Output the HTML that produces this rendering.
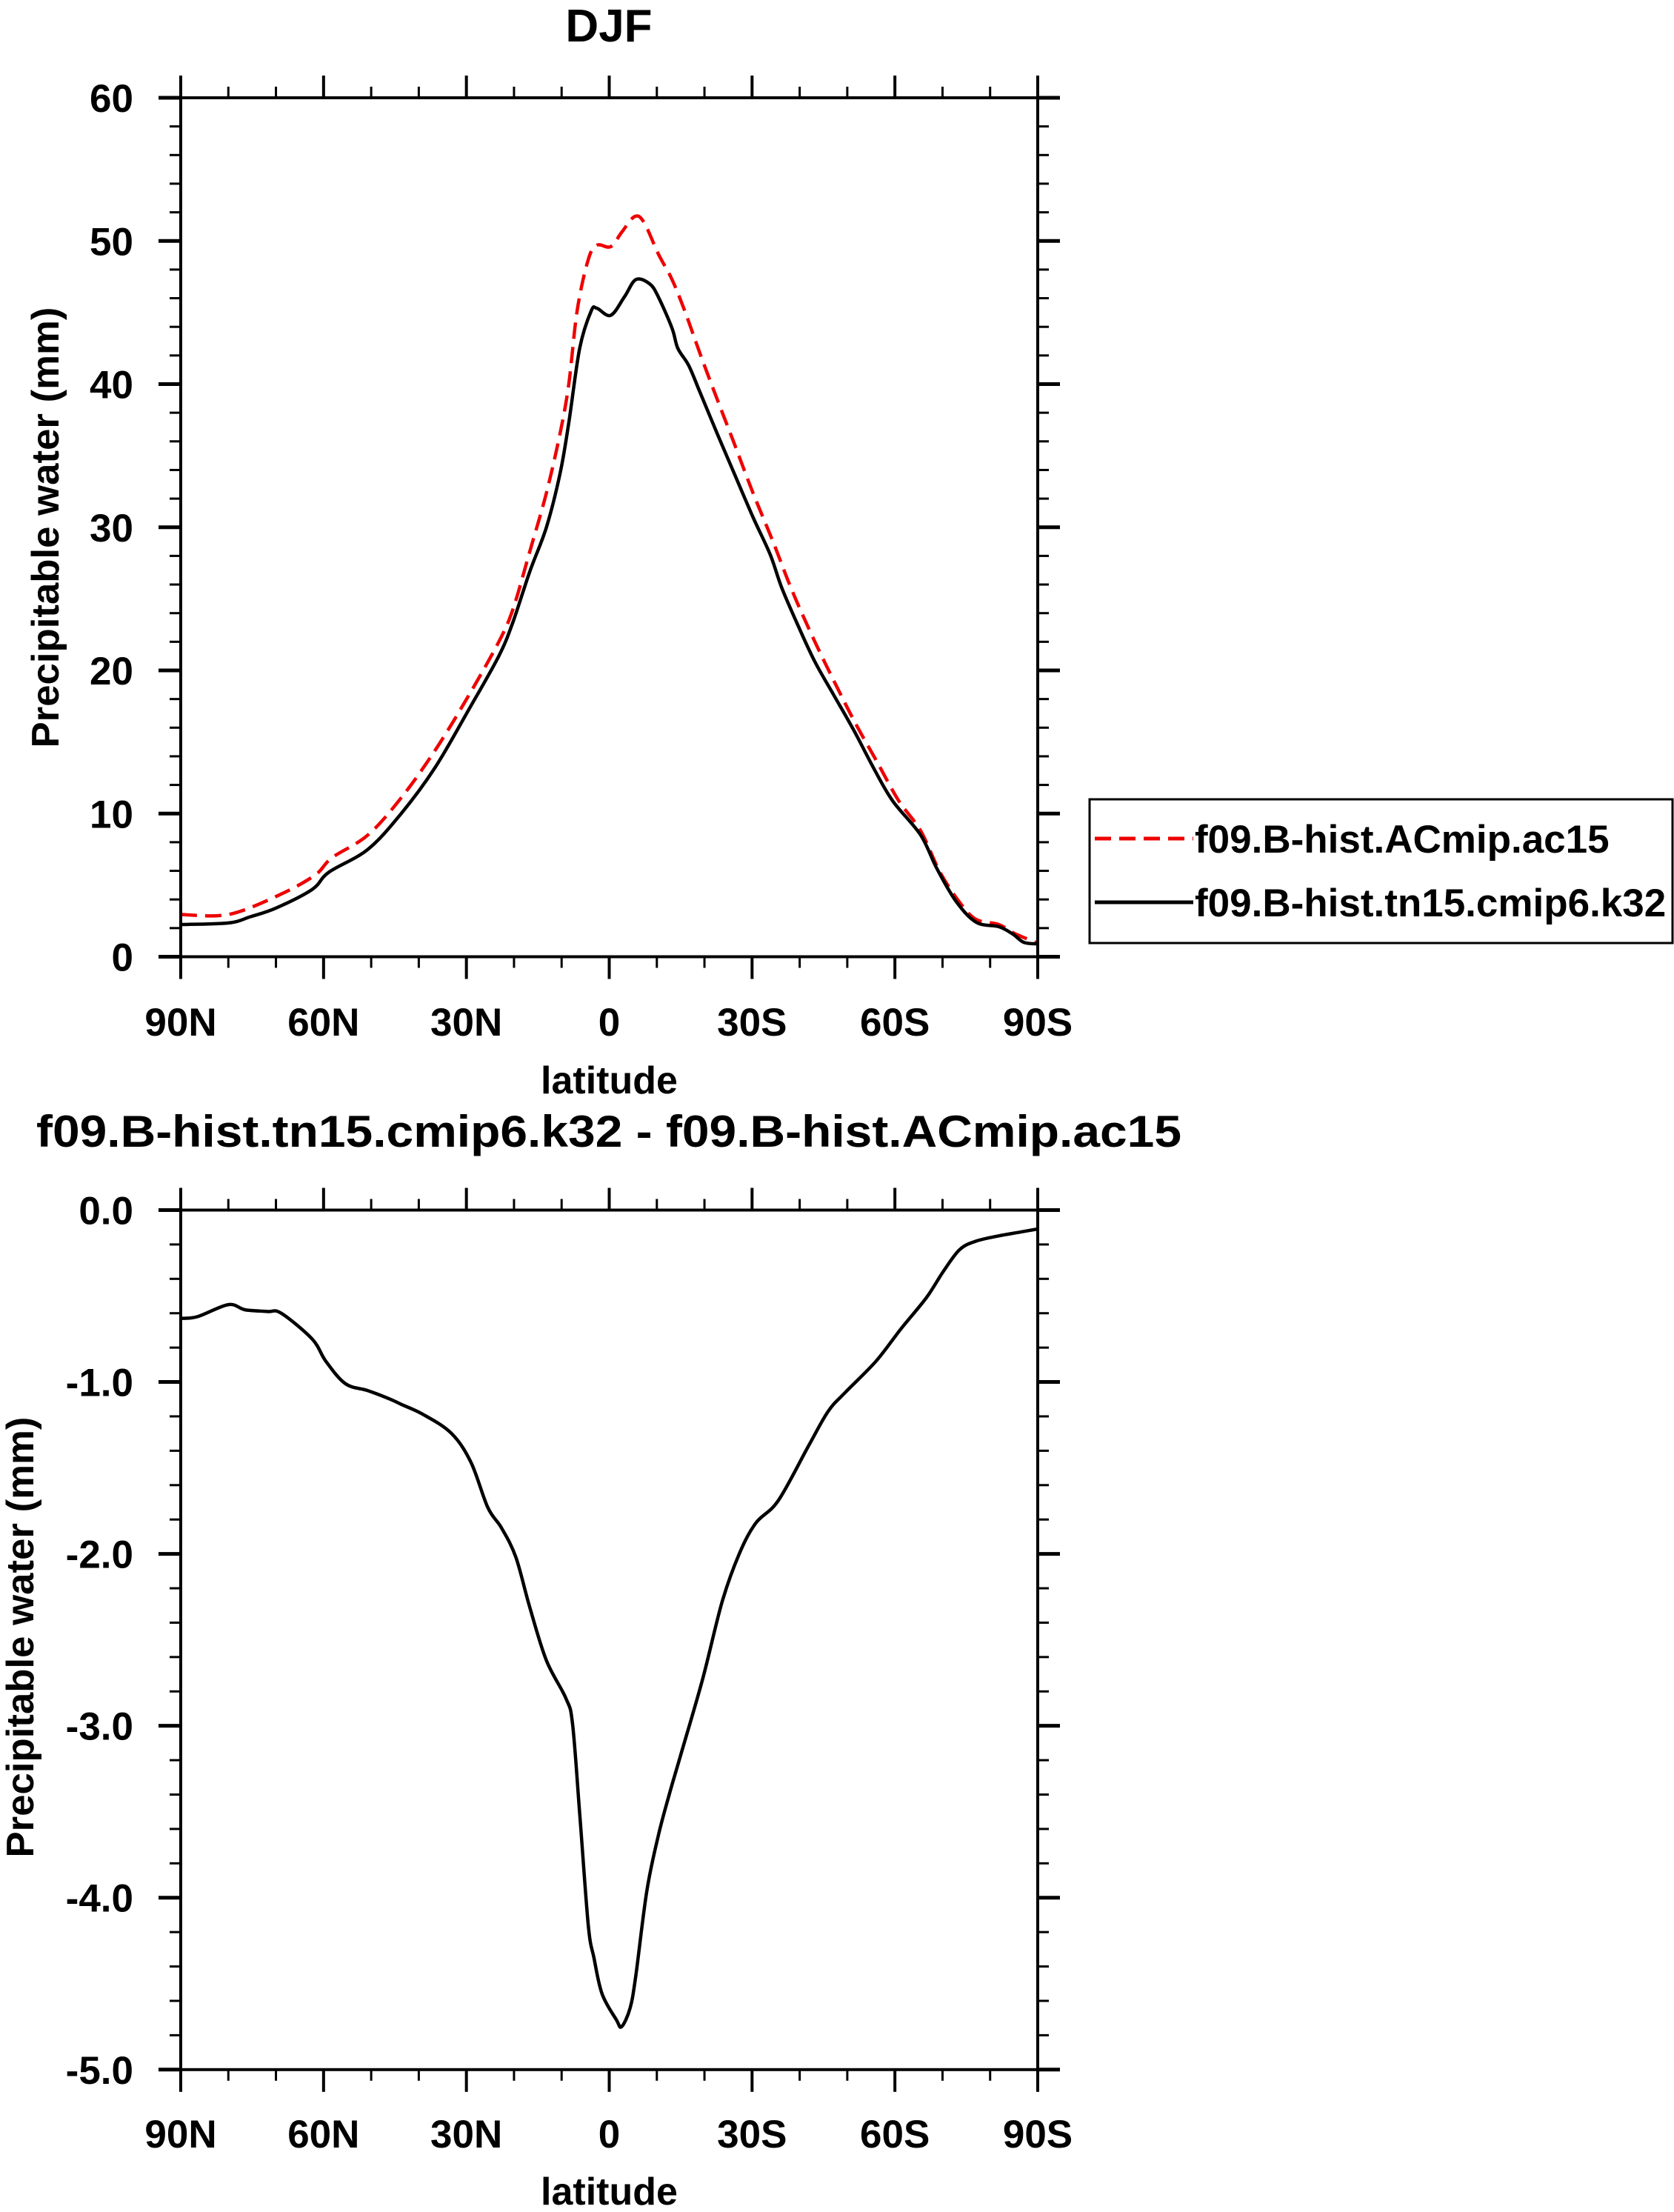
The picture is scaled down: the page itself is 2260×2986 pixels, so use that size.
<!DOCTYPE html>
<html><head><meta charset="utf-8"><style>
html,body{margin:0;padding:0;background:#fff}
svg{display:block}
text{font-family:"Liberation Sans",Arial,sans-serif;font-weight:bold;fill:#000}
</style></head><body>
<svg id="fig" width="2260" height="2986" viewBox="0 0 2260 2986" xmlns="http://www.w3.org/2000/svg">
<rect width="2260" height="2986" fill="#fff"/>
<text x="822" y="56" font-size="62" text-anchor="middle">DJF</text>
<text x="822" y="1548" font-size="60" text-anchor="middle" textLength="1546" lengthAdjust="spacingAndGlyphs">f09.B-hist.tn15.cmip6.k32 - f09.B-hist.ACmip.ac15</text>
<g id="top"></g>
<g id="bot"></g>
<g>
<rect x="1471" y="1079" width="787" height="194" fill="none" stroke="#000" stroke-width="3"/>
<line x1="1478" y1="1132" x2="1611" y2="1132" stroke="#e00" stroke-width="5" stroke-dasharray="22,11"/>
<text x="1613" y="1151" font-size="53">f09.B-hist.ACmip.ac15</text>
<line x1="1478" y1="1218" x2="1611" y2="1218" stroke="#000" stroke-width="5"/>
<text x="1613" y="1237" font-size="53">f09.B-hist.tn15.cmip6.k32</text>
</g>
</svg>
<script>
const latK32=[90,80,75.3,70,62.4,58.9,50.7,43.7,36.6,29.6,23.2,20.2,16.7,13.2,10.3,8.5,6.2,3.8,2.6,-0.3,-3.2,-5.6,-8.5,-10.3,-13.2,-14.4,-16.7,-19.1,-22.6,-26.2,-30.2,-33.8,-36.2,-39.7,-43.2,-47.3,-51.4,-55.5,-59.5,-65.4,-68.9,-73,-77.1,-81.8,-84.7,-87.1,-90];
const valK32=[2.25,2.36,2.8,3.4,4.7,5.9,7.5,10.0,13.2,17.2,21,23.4,26.9,30,33.8,37.3,42.5,45.1,45.3,44.8,46.1,47.3,47,46.1,43.9,42.5,41.3,39.4,36.6,33.8,30.7,28.1,25.8,23.1,20.6,18.2,15.8,13.2,10.9,8.5,6.1,3.8,2.4,2.1,1.6,1.0,0.9];
const latAC=[90,80,69.4,61.8,58.3,50.7,43.7,36.6,29.6,23.2,20.2,16.7,13.2,10.3,8.5,6.7,4.4,2.6,-0.3,-2.6,-5.3,-7.3,-10.3,-13.2,-16.1,-19.1,-22.6,-26.2,-30.2,-34.4,-38.5,-43.2,-47.3,-51.4,-56.1,-60.8,-65.4,-69.5,-73.6,-77.1,-81.8,-85.3,-90];
const valAC=[2.95,2.95,4.3,5.7,6.9,8.5,11.1,14.4,18.2,22,24.3,28.3,32.4,36.6,40,45.2,48.7,49.7,49.6,50.6,51.7,51.3,49.1,47.3,44.9,42.1,39,35.9,32.4,29,25.5,22,19.2,16.5,13.7,10.9,8.8,5.9,3.8,2.6,2.25,1.6,0.95];
const latDiff=[90,86.5,80,76.5,71.8,68.9,62.4,59.5,55.4,50.7,46,43.7,39,33.1,29,25.5,22.6,19.6,16.7,13.2,9.1,7.7,6.2,4.4,3.2,1.5,-1.5,-2.6,-4.4,-5.6,-7.9,-10.3,-12.6,-14.9,-19.6,-23.7,-27.3,-30.8,-35.5,-41.9,-46,-49.6,-56,-61.3,-66.6,-70.1,-73.6,-77.1,-81.8,-85.9,-90];
const valDiff=[-0.63,-0.62,-0.55,-0.58,-0.59,-0.60,-0.75,-0.88,-1.01,-1.05,-1.10,-1.13,-1.19,-1.30,-1.47,-1.73,-1.85,-2.02,-2.31,-2.62,-2.84,-2.99,-3.51,-4.16,-4.35,-4.56,-4.71,-4.75,-4.64,-4.45,-3.96,-3.64,-3.40,-3.18,-2.73,-2.28,-2.00,-1.82,-1.69,-1.37,-1.17,-1.06,-0.88,-0.69,-0.51,-0.36,-0.23,-0.18,-0.15,-0.13,-0.11];
const xTickLats=[90,60,30,0,-30,-60,-90];
const xTickLabels=["90N","60N","30N","0","30S","60S","90S"];
const topYTicks=[0,10,20,30,40,50,60];
const botYTicks=[0,-1,-2,-3,-4,-5];
const botYLabels=["0.0","-1.0","-2.0","-3.0","-4.0","-5.0"];

const NS="http://www.w3.org/2000/svg";
const X0=244,X1=1401;
function xs(lat){return X0+(90-lat)/180*(X1-X0);}
function mk(tag,attrs,parent){const e=document.createElementNS(NS,tag);for(const k in attrs)e.setAttribute(k,attrs[k]);parent.appendChild(e);return e;}
function smooth(pts){
  let d='M'+pts[0][0].toFixed(1)+','+pts[0][1].toFixed(1);
  for(let i=0;i<pts.length-1;i++){
    const p0=pts[Math.max(i-1,0)],p1=pts[i],p2=pts[i+1],p3=pts[Math.min(i+2,pts.length-1)];
    const c1x=p1[0]+(p2[0]-p0[0])/6,c1y=p1[1]+(p2[1]-p0[1])/6;
    const c2x=p2[0]-(p3[0]-p1[0])/6,c2y=p2[1]-(p3[1]-p1[1])/6;
    d+=` C${c1x.toFixed(1)},${c1y.toFixed(1)} ${c2x.toFixed(1)},${c2y.toFixed(1)} ${p2[0].toFixed(1)},${p2[1].toFixed(1)}`;
  }
  return d;
}

function panel(g,yTop,yBot,vMin,vMax,yTicks,yLabels,minorStep,series,titleX,titleCY,labBase,latBase){
  const ys=v=>yBot-(v-vMin)/(vMax-vMin)*(yBot-yTop);
  for(let l=90;l>=-90;l-=10){
    if(l%30===0)continue;
    const x=xs(l);
    const t1=mk('line',{x1:x,y1:yTop,x2:x,y2:yTop-15,stroke:'#000','stroke-width':3},g);
    
    
    const t2=mk('line',{x1:x,y1:yBot,x2:x,y2:yBot+15,stroke:'#000','stroke-width':3},g);
    
    
  }
  xTickLats.forEach((l,i)=>{
    const x=xs(l);
    const a=mk('line',{x1:x,y1:yTop,x2:x,y2:yTop-30,stroke:'#000','stroke-width':4},g);
    
    
    const b=mk('line',{x1:x,y1:yBot,x2:x,y2:yBot+30,stroke:'#000','stroke-width':4},g);
    
    
    const t=mk('text',{x:x,y:labBase,'font-size':53,'text-anchor':'middle'},g);
    t.textContent=xTickLabels[i];
    
    
  });
  const nMin=Math.round((vMax-vMin)/minorStep);
  for(let i=0;i<=nMin;i++){
    const v=vMin+i*minorStep;
    const y=ys(v);
    const a=mk('line',{x1:X0,y1:y,x2:X0-15,y2:y,stroke:'#000','stroke-width':3},g);
    
    
    const b=mk('line',{x1:X1,y1:y,x2:X1+15,y2:y,stroke:'#000','stroke-width':3},g);
    
    
  }
  yTicks.forEach((v,i)=>{
    const y=ys(v);
    const a=mk('line',{x1:X0,y1:y,x2:X0-30,y2:y,stroke:'#000','stroke-width':5},g);
    
    
    const b=mk('line',{x1:X1,y1:y,x2:X1+30,y2:y,stroke:'#000','stroke-width':5},g);
    
    
    const t=mk('text',{x:180,y:y+19,'font-size':53,'text-anchor':'end'},g);
    t.textContent=yLabels[i];
    
    
  });
  series.forEach(s=>{
    const pts=s.lat.map((l,i)=>[xs(l),ys(s.val[i])]);
    const p=mk('path',{d:smooth(pts),fill:'none',stroke:s.color,'stroke-width':4.5,'stroke-linejoin':'round'},g);
    if(s.dash)p.setAttribute('stroke-dasharray',s.dash);
    
    
  });
  const fr=mk('rect',{x:X0,y:yTop,width:X1-X0,height:yBot-yTop,fill:'none',stroke:'#000','stroke-width':4},g);
  
  
  const xl=mk('text',{x:(X0+X1)/2,y:latBase,'font-size':52,'text-anchor':'middle'},g);
  xl.textContent='latitude';
  
  
  const yl=mk('text',{x:0,y:0,'font-size':52,'text-anchor':'middle',textLength:595,lengthAdjust:'spacingAndGlyphs',transform:`translate(${titleX},${titleCY}) rotate(-90)`},g);
  yl.textContent='Precipitable water (mm)';
  
  
}
panel(document.getElementById('top'),132,1291.5,0,60,topYTicks,topYTicks.map(String),2,
  [{lat:latAC,val:valAC,color:'#e00',dash:'22,11',name:'line-ac15'},
   {lat:latK32,val:valK32,color:'#000',name:'line-k32'}],79,712,1398,1476);
panel(document.getElementById('bot'),1633.5,2793.8,-5,0,botYTicks,botYLabels,0.2,
  [{lat:latDiff,val:valDiff,color:'#000',name:'line-difference'}],45,2210,2899,2976);
</script>
</body></html>
